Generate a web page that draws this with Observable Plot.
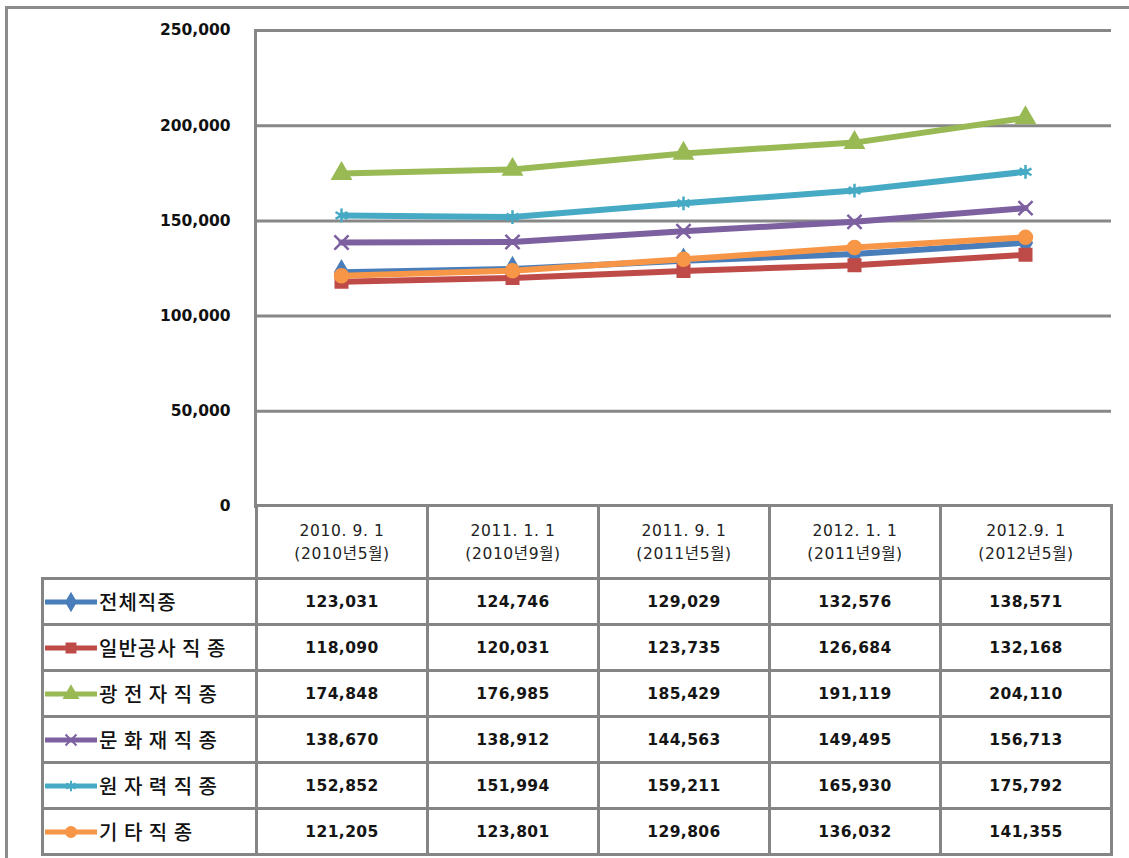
<!DOCTYPE html>
<html><head><meta charset="utf-8">
<script src="https://cdn.jsdelivr.net/npm/d3@7"></script>
<script src="https://cdn.jsdelivr.net/npm/@observablehq/plot@0.6"></script>
<style>
html,body{margin:0;padding:0;background:#fff;overflow:hidden;}
#wrap{position:relative;width:1129px;height:858px;overflow:hidden;font-family:"DejaVu Sans","Noto Sans CJK KR",sans-serif;background:#fff;}
#frame{position:absolute;left:5px;top:6px;width:1200px;height:1000px;border:3px solid #8c8c8c;box-sizing:border-box;}
#chart{position:absolute;left:0;top:0;}
#tbl{position:absolute;left:41px;top:504px;border-collapse:collapse;table-layout:fixed;}
#tbl td{border:3px solid #858585;text-align:center;padding:0;color:#151515;}
#tbl td.corner{border-top:hidden;border-left:hidden;}
#tbl td.hdr{font-family:"DejaVu Sans","Noto Sans CJK KR",sans-serif;font-size:15.5px;letter-spacing:0.6px;line-height:23px;color:#222;padding-top:2px;}
#tbl td.val{font-family:"DejaVu Sans",sans-serif;font-weight:bold;font-size:15.5px;letter-spacing:0.4px;}
#tbl td.lab{text-align:left;}
.labwrap{display:flex;align-items:center;}
.labtxt{font-family:"Noto Sans CJK KR",sans-serif;font-size:20px;font-weight:500;color:#111;margin-left:1px;letter-spacing:1px;white-space:nowrap;}
</style>
</head><body>
<div id="wrap"><div id="frame"></div><div id="chart"></div><table id="tbl"></table></div>
<script>
const periods = ["2010. 9. 1","2011. 1. 1","2011. 9. 1","2012. 1. 1","2012.9. 1"];
const periodSub = ["(2010년5월)","(2010년9월)","(2011년5월)","(2011년9월)","(2012년5월)"];
const seriesNames = ["전체직종","일반공사직종","광전자직종","문화재직종","원자력직종","기타직종"];
const legendLabels = ["전체직종","일반공사 직 종","광 전 자 직 종","문 화 재 직 종","원 자 력 직 종","기 타 직 종"];
const totalValues    = [123031,124746,129029,132576,138571];
const generalValues  = [118090,120031,123735,126684,132168];
const optoValues     = [174848,176985,185429,191119,204110];
const heritageValues = [138670,138912,144563,149495,156713];
const nuclearValues  = [152852,151994,159211,165930,175792];
const otherValues    = [121205,123801,129806,136032,141355];
const yTicks = [0,50000,100000,150000,200000,250000];
const colors = ["#4a7ebb","#be4b48","#98b954","#7d60a0","#46aac5","#f79646"];
const symbols = ["diamond","square","triangle","times","asterisk","circle"];

const allValues = [totalValues,generalValues,optoValues,heritageValues,nuclearValues,otherValues];
const data = [];
seriesNames.forEach((s,i)=>allValues[i].forEach((v,j)=>data.push({series:s,period:periods[j],value:v})));

const fmt = d3.format(",");
const chart = Plot.plot({
  width:1129, height:522,
  marginLeft:255, marginRight:18, marginTop:30, marginBottom:16,
  style:{fontFamily:"DejaVu Sans, sans-serif", fontSize:"15.5px", fontWeight:"bold", color:"#111", background:"transparent"},
  x:{type:"point", domain:periods, padding:0.5, axis:null},
  y:{domain:[0,250000], axis:null},
  color:{domain:seriesNames, range:colors},
  symbol:{domain:seriesNames, range:symbols},
  marks:[
    Plot.ruleY(yTicks.filter(d=>d>0), {stroke:"#878787", strokeWidth:3}),
    Plot.frame({anchor:"left", stroke:"#878787", strokeWidth:3}),
    Plot.axisY({ticks:yTicks, tickSize:0, tickPadding:25, tickFormat:fmt, label:null, fontSize:15.5, fontWeight:"bold"}),
    Plot.line(data, {x:"period", y:"value", z:"series", stroke:"series", strokeWidth:6, strokeLinejoin:"round"}),
    Plot.dot(data, {x:"period", y:"value", symbol:"series", fill:"series", stroke:"series", strokeWidth:2.5, r:6.5})
  ]
});
document.getElementById("chart").appendChild(chart);

// table
const tbl = document.getElementById("tbl");
const cg = document.createElement("colgroup");
[214,171,171,171,171,171].forEach(w=>{const c=document.createElement("col");c.style.width=w+"px";cg.appendChild(c);});
tbl.appendChild(cg);
const hr = document.createElement("tr"); hr.style.height="73px";
const corner = document.createElement("td"); corner.className="corner"; hr.appendChild(corner);
periods.forEach((p,j)=>{const td=document.createElement("td");td.className="hdr";td.style.background="#fff";td.innerHTML=p+"<br>"+periodSub[j];hr.appendChild(td);});
tbl.appendChild(hr);
seriesNames.forEach((s,i)=>{
  const tr=document.createElement("tr"); tr.style.height="46px"; tr.style.background="#fff";
  const td=document.createElement("td"); td.className="lab";
  const wrap=document.createElement("div"); wrap.className="labwrap";
  const svg=d3.create("svg").attr("width",54).attr("height",24);
  svg.append("line").attr("x1",1).attr("x2",53).attr("y1",12).attr("y2",12).attr("stroke",colors[i]).attr("stroke-width",5);
  const typ={diamond:d3.symbolDiamond,square:d3.symbolSquare,triangle:d3.symbolTriangle,times:d3.symbolTimes,asterisk:d3.symbolAsterisk,circle:d3.symbolCircle}[symbols[i]];
  svg.append("path").attr("transform","translate(27,12)").attr("d",d3.symbol(typ,80)()).attr("fill",colors[i]).attr("stroke",colors[i]).attr("stroke-width",2);
  wrap.appendChild(svg.node());
  const sp=document.createElement("span"); sp.className="labtxt"; sp.textContent=legendLabels[i];
  wrap.appendChild(sp); td.appendChild(wrap); tr.appendChild(td);
  allValues[i].forEach(v=>{const c=document.createElement("td");c.className="val";c.textContent=fmt(v);tr.appendChild(c);});
  tbl.appendChild(tr);
});
</script>
</body></html>
